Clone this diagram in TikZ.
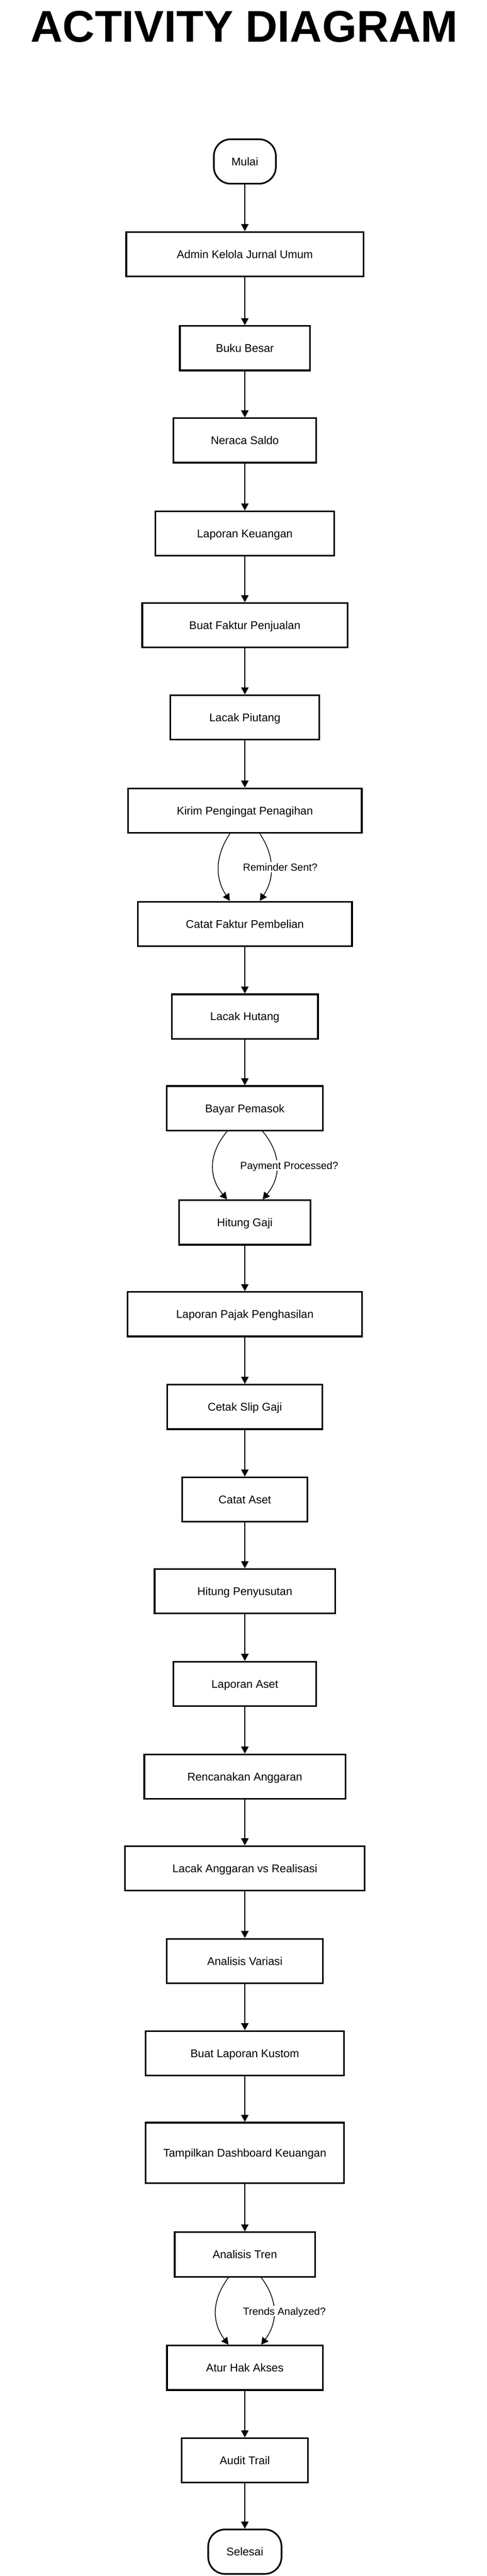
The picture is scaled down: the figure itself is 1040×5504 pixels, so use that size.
\documentclass[tikz,border=0pt]{standalone}
\usepackage{fontspec}
\setmainfont{Liberation Sans}
\usetikzlibrary{arrows.meta}
\newcommand{\dgnodefont}{\fontsize{24}{28}\selectfont}
\newcommand{\dglblfont}{\fontsize{22}{26}\selectfont}
\newcommand{\dgtitlefont}{\fontsize{95}{100}\selectfont\bfseries}
\begin{document}
\begin{tikzpicture}[x=1pt,y=-1pt,
  box/.style={draw=black, line width=3.5pt, fill=white, minimum height=95pt,
    inner sep=0pt, font=\dgnodefont, text height=17.2pt, text depth=0pt},
  term/.style={box, rounded corners=36pt},
  flow/.style={line width=1.6pt, -{Triangle[width=16pt,length=15pt]}},
  lbl/.style={fill=white, inner sep=3pt, font=\dglblfont, text height=15.8pt,
    text depth=0pt, anchor=west}
]
\fill[white] (0,0) rectangle (1040,5504);
\useasboundingbox (0,0) rectangle (1040,5504);

\node[font=\dgtitlefont, anchor=base] (title) at (522,90) {ACTIVITY DIAGRAM};

\node[term, minimum width=132.5pt] (mulai) at (523,345) {Mulai};
\node[box, minimum width=506.5pt] (admin) at (523,543) {Admin Kelola Jurnal Umum};
\node[box, minimum width=277.5pt] (buku) at (523,744) {Buku Besar};
\node[box, minimum width=305.5pt] (neraca) at (523,941) {Neraca Saldo};
\node[box, minimum width=382.5pt] (lapkeu) at (523,1140) {Laporan Keuangan};
\node[box, minimum width=438.5pt] (fakturjual) at (523,1336) {Buat Faktur Penjualan};
\node[box, minimum width=317.5pt] (piutang) at (523,1533) {Lacak Piutang};
\node[box, minimum width=499.5pt] (kirim) at (523,1732) {Kirim Pengingat Penagihan};
\node[box, minimum width=457.5pt] (fakturbeli) at (523,1974) {Catat Faktur Pembelian};
\node[box, minimum width=312.5pt] (hutang) at (523,2172) {Lacak Hutang};
\node[box, minimum width=333.5pt] (bayar) at (523,2368) {Bayar Pemasok};
\node[box, minimum width=280.5pt] (gaji) at (523,2612) {Hitung Gaji};
\node[box, minimum width=500.5pt] (pajak) at (523,2808) {Laporan Pajak Penghasilan};
\node[box, minimum width=331.5pt] (slip) at (523,3006) {Cetak Slip Gaji};
\node[box, minimum width=267.5pt] (aset) at (523,3204) {Catat Aset};
\node[box, minimum width=385.5pt] (susut) at (523,3400) {Hitung Penyusutan};
\node[box, minimum width=305.5pt] (lapaset) at (523,3598) {Laporan Aset};
\node[box, minimum width=429.5pt] (rencana) at (523,3796) {Rencanakan Anggaran};
\node[box, minimum width=512.5pt] (realisasi) at (523,3992) {Lacak Anggaran vs Realisasi};
\node[box, minimum width=333.5pt] (variasi) at (523,4190) {Analisis Variasi};
\node[box, minimum width=423.5pt] (kustom) at (523,4387) {Buat Laporan Kustom};
\node[box, minimum width=423.5pt, minimum height=129.5pt] (dashboard) at (523,4600) {Tampilkan Dashboard Keuangan};
\node[box, minimum width=299.5pt] (tren) at (523,4817) {Analisis Tren};
\node[box, minimum width=332.5pt] (akses) at (523,5059) {Atur Hak Akses};
\node[box, minimum width=269.5pt] (audit) at (523,5257) {Audit Trail};
\node[term, minimum width=156.5pt] (selesai) at (523,5452) {Selesai};

\draw[flow] (mulai) -- (admin);
\draw[flow] (admin) -- (buku);
\draw[flow] (buku) -- (neraca);
\draw[flow] (neraca) -- (lapkeu);
\draw[flow] (lapkeu) -- (fakturjual);
\draw[flow] (fakturjual) -- (piutang);
\draw[flow] (piutang) -- (kirim);
\draw[flow] (fakturbeli) -- (hutang);
\draw[flow] (hutang) -- (bayar);
\draw[flow] (gaji) -- (pajak);
\draw[flow] (pajak) -- (slip);
\draw[flow] (slip) -- (aset);
\draw[flow] (aset) -- (susut);
\draw[flow] (susut) -- (lapaset);
\draw[flow] (lapaset) -- (rencana);
\draw[flow] (rencana) -- (realisasi);
\draw[flow] (realisasi) -- (variasi);
\draw[flow] (variasi) -- (kustom);
\draw[flow] (kustom) -- (dashboard);
\draw[flow] (dashboard) -- (tren);
\draw[flow] (akses) -- (audit);
\draw[flow] (audit) -- (selesai);

% curved pairs
\draw[flow] ([xshift=-32pt]kirim.south) .. controls +(-32,48) and +(-32,-48) .. ([xshift=-32pt]fakturbeli.north);
\draw[flow] ([xshift=32pt]kirim.south) .. controls +(32,48) and +(32,-48) .. ([xshift=32pt]fakturbeli.north);
\node[lbl] (l1) at (516,1853) {Reminder Sent?};

\draw[flow] ([xshift=-38pt]bayar.south) .. controls +(-40,48) and +(-40,-48) .. ([xshift=-38pt]gaji.north);
\draw[flow] ([xshift=38pt]bayar.south) .. controls +(40,48) and +(40,-48) .. ([xshift=38pt]gaji.north);
\node[lbl] (l2) at (510,2490) {Payment Processed?};

\draw[flow] ([xshift=-35pt]tren.south) .. controls +(-36,48) and +(-36,-48) .. ([xshift=-35pt]akses.north);
\draw[flow] ([xshift=35pt]tren.south) .. controls +(36,48) and +(36,-48) .. ([xshift=35pt]akses.north);
\node[lbl] (l3) at (516,4938) {Trends Analyzed?};
\end{tikzpicture}
\end{document}
